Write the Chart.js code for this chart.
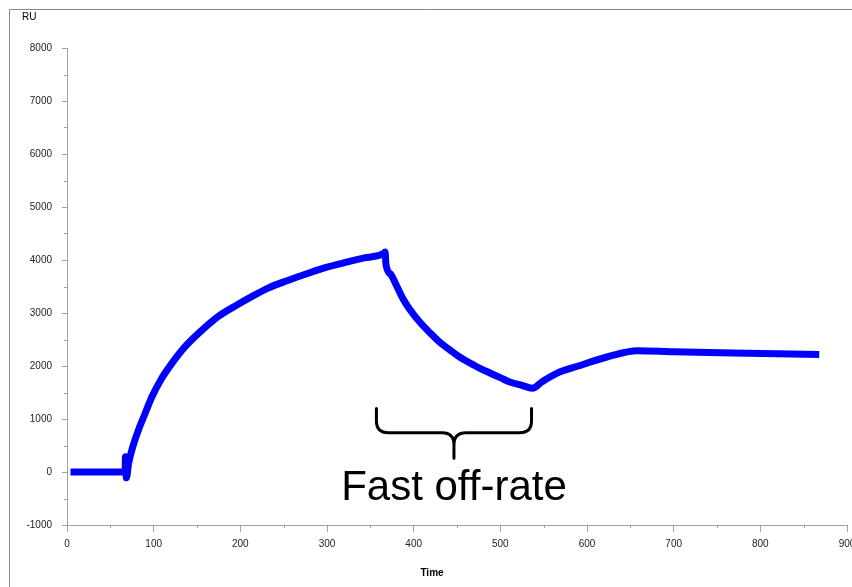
<!DOCTYPE html>
<html>
<head>
<meta charset="utf-8">
<script src="https://cdn.jsdelivr.net/npm/chart.js@4.4.1/dist/chart.umd.min.js"></script>
<style>
  html, body { margin: 0; padding: 0; background: #fff; }
</style>
</head>
<body>
<canvas id="sensorgram" width="852" height="587"></canvas>
<script>
// sensorgram trace (time in s, response in RU)
const timeSec = [4, 67, 67.5, 68.5, 71, 76, 82.6, 90, 98, 109, 121, 136, 152, 175, 197, 211, 232, 254, 280, 300, 319, 343, 365, 367,
                 368, 374, 381, 388, 396, 407, 419, 430, 442, 453, 465, 476, 488, 500, 511, 524, 537,
                 548, 565, 590, 623, 658, 700, 768, 868];
const responseRU = [0, 0, 290, -110, 160, 480, 800, 1100, 1420, 1760, 2050, 2360, 2620, 2940, 3160, 3290, 3470, 3610, 3760, 3865, 3945, 4040, 4120, 4150,
                    3920, 3720, 3490, 3260, 3057, 2830, 2623, 2450, 2300, 2170, 2057, 1960, 1868, 1780, 1698, 1640, 1580,
                    1700, 1860, 2000, 2170, 2290, 2270, 2245, 2215];

const xMinorTicks = [50, 150, 250, 350, 450, 550, 650, 750, 850];
const yMinorTicks = [-500, 500, 1500, 2500, 3500, 4500, 5500, 6500, 7500];

const yAxisTitle = 'RU';
const xAxisTitle = 'Time';
const braceLabel = 'Fast off-rate';
const braceFrom = 357, braceTo = 536;          // time range the brace covers
const braceTopRU = 1200, braceMidRU = 740, braceTipRU = 260, labelRU = -530;

const FONT = '"Liberation Sans", Arial, sans-serif';

const decorations = {
    id: 'decorations',
    beforeDraw(chart) {
        const ctx = chart.ctx;
        ctx.save();
        ctx.fillStyle = '#fff';
        ctx.fillRect(0, 0, chart.width, chart.height);
        ctx.strokeStyle = '#8a8a8a';
        ctx.lineWidth = 1;
        ctx.beginPath();
        ctx.moveTo(9.5, chart.height);
        ctx.lineTo(9.5, 9.5);
        ctx.lineTo(chart.width, 9.5);
        ctx.stroke();
        ctx.restore();
    },
    afterDraw(chart) {
        const ctx = chart.ctx;
        const x = chart.scales.x, y = chart.scales.y;
        ctx.save();

        // minor ticks
        ctx.strokeStyle = '#a0a0a0';
        ctx.lineWidth = 1;
        ctx.beginPath();
        xMinorTicks.forEach(v => {
            const px = Math.round(x.getPixelForValue(v)) + 0.5;
            ctx.moveTo(px, x.top);
            ctx.lineTo(px, x.top + 3);
        });
        yMinorTicks.forEach(v => {
            const py = Math.round(y.getPixelForValue(v)) + 0.5;
            ctx.moveTo(y.right, py);
            ctx.lineTo(y.right - 3, py);
        });
        ctx.stroke();

        // axis titles
        ctx.fillStyle = '#000';
        ctx.font = '10px ' + FONT;
        ctx.textAlign = 'left';
        ctx.textBaseline = 'alphabetic';
        ctx.fillText(yAxisTitle, 22, 20);
        ctx.font = 'bold 10px ' + FONT;
        ctx.textAlign = 'center';
        ctx.fillText(xAxisTitle, 432, 576);

        // brace + note
        const x1 = x.getPixelForValue(braceFrom), x2 = x.getPixelForValue(braceTo);
        const xm = (x1 + x2) / 2;
        const yt = y.getPixelForValue(braceTopRU), ym = y.getPixelForValue(braceMidRU), yb = y.getPixelForValue(braceTipRU);
        const r = 12;
        ctx.strokeStyle = '#000';
        ctx.lineWidth = 3;
        ctx.lineCap = 'round';
        ctx.beginPath();
        ctx.moveTo(x1, yt);
        ctx.lineTo(x1, ym - r);
        ctx.quadraticCurveTo(x1, ym, x1 + r, ym);
        ctx.lineTo(xm - r, ym);
        ctx.quadraticCurveTo(xm, ym, xm, ym + r);
        ctx.lineTo(xm, yb);
        ctx.moveTo(xm, ym + r);
        ctx.quadraticCurveTo(xm, ym, xm + r, ym);
        ctx.lineTo(x2 - r, ym);
        ctx.quadraticCurveTo(x2, ym, x2, ym - r);
        ctx.lineTo(x2, yt);
        ctx.stroke();

        ctx.font = '42px ' + FONT;
        ctx.textAlign = 'center';
        ctx.fillText(braceLabel, xm, y.getPixelForValue(labelRU));
        ctx.restore();
    }
};

const ctx = document.getElementById('sensorgram').getContext('2d');
new Chart(ctx, {
    type: 'line',
    data: {
        datasets: [{
            label: 'Response',
            data: timeSec.map((t, i) => ({ x: t, y: responseRU[i] })),
            borderColor: '#0000ff',
            borderWidth: 7,
            borderJoinStyle: 'round',
            borderCapStyle: 'butt',
            pointRadius: 0,
            cubicInterpolationMode: 'monotone',
            fill: false
        }]
    },
    options: {
        responsive: false,
        devicePixelRatio: 1,
        animation: false,
        layout: { padding: { top: 48, right: 5, left: 0, bottom: 0 } },
        plugins: { legend: { display: false }, tooltip: { enabled: false } },
        scales: {
            x: {
                type: 'linear',
                min: 0,
                max: 900,
                afterFit: s => { s.height = 62; s.paddingLeft = 0; s.paddingRight = 0; },
                ticks: { stepSize: 100, color: '#222', padding: 6, maxRotation: 0, font: { family: FONT, size: 10 },
                         callback: v => String(v) },
                grid: { drawOnChartArea: false, drawTicks: true, tickLength: 7, color: '#a0a0a0' },
                border: { color: '#a0a0a0', width: 1 }
            },
            y: {
                min: -1000,
                max: 8000,
                afterFit: s => { s.width = 67; },
                ticks: { stepSize: 1000, color: '#222', padding: 10, font: { family: FONT, size: 10 },
                         callback: v => String(v) },
                grid: { drawOnChartArea: false, drawTicks: true, tickLength: 5, color: '#a0a0a0' },
                border: { color: '#a0a0a0', width: 1 }
            }
        }
    },
    plugins: [decorations]
});
</script>
</body>
</html>
